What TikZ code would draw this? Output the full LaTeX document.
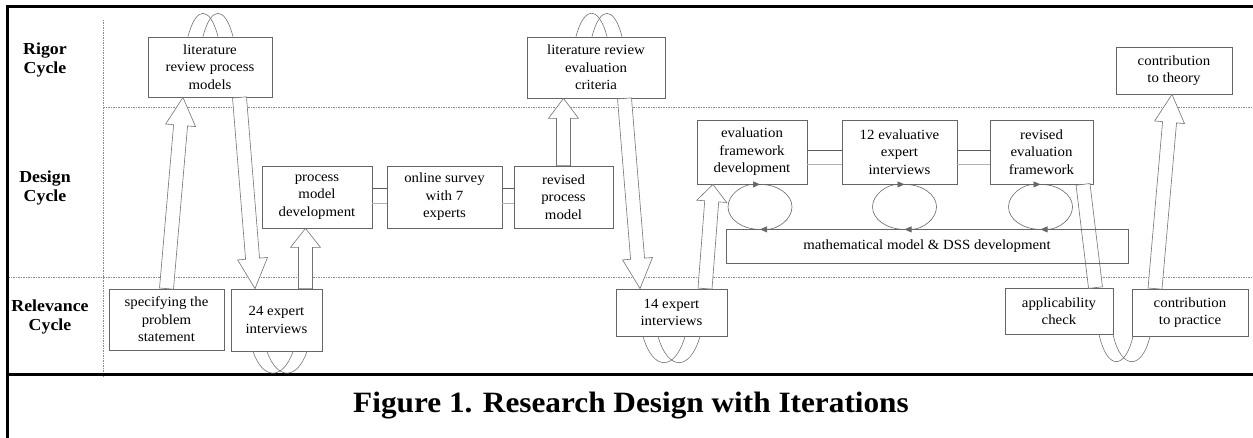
\documentclass[tikz,border=0pt]{standalone}
\usepackage{fontspec}
\setmainfont{Liberation Serif}[FakeStretch=1.06]
\usepackage{tikz}
\usetikzlibrary{calc, arrows.meta}

\begin{document}
\begin{tikzpicture}[x=1pt, y=-1pt,
    box/.style={draw=black!60, fill=white, line width=0.8pt, align=center, inner sep=0pt,
      font=\fontsize{14}{17.5}\selectfont},
    lab/.style={align=center, font=\fontsize{16.8}{19}\selectfont\bfseries},
    sep/.style={draw=black!45, line width=0.7pt, dash pattern=on 1.5pt off 1pt},
    frame/.style={draw=black, line width=3pt},
    upper/.style={draw=black!65, line width=0.8pt},
    lower/.style={draw=black!30, line width=0.8pt},
    loopline/.style={draw=black!55, line width=0.6pt},
    cyc/.style={draw=black!60, line width=0.6pt, -{Triangle[length=7pt, width=6pt]}},
    head len/.store in=\headlen, head len=28pt,
    bigarrow/.style={draw=black!55, fill=white, line width=0.6pt, to path={
      ($(\tikztostart)!7pt!90:(\tikztotarget)$)
      -- ($(\tikztotarget)!\headlen!(\tikztostart)!7pt!-90:(\tikztostart)$)
      -- ($(\tikztotarget)!\headlen!(\tikztostart)!15pt!-90:(\tikztostart)$)
      -- (\tikztotarget)
      -- ($(\tikztotarget)!\headlen!(\tikztostart)!15pt!90:(\tikztostart)$)
      -- ($(\tikztotarget)!\headlen!(\tikztostart)!7pt!90:(\tikztostart)$)
      -- ($(\tikztostart)!7pt!-90:(\tikztotarget)$) -- cycle}},
    ribbon/.style={draw=black!55, fill=white, line width=0.6pt, to path={
      ($(\tikztostart)!7pt!90:(\tikztotarget)$)
      -- ($(\tikztotarget)!7pt!-90:(\tikztostart)$)
      -- ($(\tikztotarget)!7pt!90:(\tikztostart)$)
      -- ($(\tikztostart)!7pt!-90:(\tikztotarget)$) -- cycle}}
  ]
  \useasboundingbox (0,0) rectangle (1253,438);

  \draw[sep] (103,20) -- (103,377);
  \draw[sep] (103,107) -- (1253,107);
  \draw[sep] (8,277) -- (1253,277);
  \draw[frame] (7,438) -- (7,7) -- (1253,7);
  \draw[frame] (7,374) -- (1253,374);

  \node[lab] (rigor) at (45,60) {Rigor\\Cycle};
  \node[lab] (design) at (45,188) {Design\\Cycle};
  \node[lab] (relevance) at (50,317) {Relevance\\Cycle};

  \node[box, minimum width=124, minimum height=60] (litproc) at (210,67) {literature\\review process\\models};
  \node[box, minimum width=115, minimum height=61] (spec) at (166.5,319.5) {specifying the\\problem\\statement};
  \node[box, minimum width=91, minimum height=62] (int24) at (276.5,320) {24 expert\\interviews};
  \node[box, minimum width=110, minimum height=62] (procdev) at (317,197) {process\\model\\development};
  \node[box, minimum width=115, minimum height=62] (survey) at (444.5,197) {online survey\\with 7\\experts};
  \node[box, minimum width=99, minimum height=62] (revproc) at (563.5,197) {revised\\process\\model};
  \node[box, minimum width=138, minimum height=61] (liteval) at (596,67.5) {literature review\\evaluation\\criteria};
  \node[box, minimum width=110, minimum height=64] (evaldev) at (752,152) {evaluation\\framework\\development};
  \node[box, minimum width=115, minimum height=64] (int12) at (899.5,152) {12 evaluative\\expert\\interviews};
  \node[box, minimum width=103, minimum height=64] (reveval) at (1041.5,152) {revised\\evaluation\\framework};
  \node[box, minimum width=111, minimum height=47] (int14) at (671.5,312.5) {14 expert\\interviews};
  \node[box, minimum width=108, minimum height=46] (applic) at (1059,311) {applicability\\check};
  \node[box, minimum width=116, minimum height=47] (practice) at (1190,312.5) {contribution\\to practice};
  \node[box, minimum width=116, minimum height=47] (theory) at (1174,70.5) {contribution\\to theory};

  \draw[upper] ([yshift=9pt]procdev.east) -- ([yshift=9pt]survey.west);
  \draw[lower] ([yshift=-6pt]procdev.east) -- ([yshift=-6pt]survey.west);
  \draw[upper] ([yshift=9pt]survey.east) -- ([yshift=9pt]revproc.west);
  \draw[lower] ([yshift=-6pt]survey.east) -- ([yshift=-6pt]revproc.west);
  \draw[upper] ([yshift=2pt]evaldev.east) -- ([yshift=2pt]int12.west);
  \draw[lower] ([yshift=-12pt]evaldev.east) -- ([yshift=-12pt]int12.west);
  \draw[upper] ([yshift=2pt]int12.east) -- ([yshift=2pt]reveval.west);
  \draw[lower] ([yshift=-12pt]int12.east) -- ([yshift=-12pt]reveval.west);

  \draw[bigarrow] (spec.north) to ([xshift=-27pt]litproc.south);
  \draw[bigarrow, head len=30pt] ([xshift=29.5pt]litproc.south) to ([xshift=-21.5pt]int24.north);
  \draw[bigarrow, head len=19pt] ([xshift=29pt]int24.north) to ([xshift=-11.5pt]procdev.south);
  \draw[bigarrow, head len=20pt] (revproc.north) to ([xshift=-32.5pt]liteval.south);
  \draw[bigarrow, head len=30pt] ([xshift=28.5pt]liteval.south) to ([xshift=-31.5pt]int14.north);
  \draw[bigarrow, head len=17pt] ([xshift=33.5pt]int14.north) to ([xshift=-39pt]evaldev.south);
  \draw[ribbon] ([xshift=41.5pt]reveval.south) to ([xshift=36.5pt]applic.north);
  \draw[bigarrow] ([xshift=-35pt]practice.north) to ([xshift=-2pt]theory.south);

  \node[box, fill=none, minimum width=402, minimum height=34] (dss) at (927,246) {mathematical model \& DSS development};

  \draw[loopline] ([xshift=-22pt]litproc.north) .. controls +(8,-31) and +(-8,-31) .. ([xshift=8pt]litproc.north);
  \draw[loopline] ([xshift=-7pt]litproc.north) .. controls +(8,-31) and +(-8,-31) .. ([xshift=23pt]litproc.north);
  \draw[loopline] ([xshift=-20pt]liteval.north) .. controls +(8,-31) and +(-8,-31) .. ([xshift=11pt]liteval.north);
  \draw[loopline] ([xshift=-4pt]liteval.north) .. controls +(8,-31) and +(-8,-31) .. ([xshift=26pt]liteval.north);
  \draw[loopline] ([xshift=-23.5pt]int24.south) .. controls +(10,29) and +(-10,29) .. ([xshift=16.5pt]int24.south);
  \draw[loopline] ([xshift=-9.5pt]int24.south) .. controls +(10,29) and +(-10,29) .. ([xshift=30.5pt]int24.south);
  \draw[loopline] ([xshift=-28.5pt]int14.south) .. controls +(10,35) and +(-10,35) .. ([xshift=13.5pt]int14.south);
  \draw[loopline] ([xshift=-13.5pt]int14.south) .. controls +(10,35) and +(-10,35) .. ([xshift=28.5pt]int14.south);
  \draw[loopline] ([xshift=40pt]applic.south) .. controls +(8,36) and +(-8,34) .. ([xshift=-57pt]practice.south);
  \draw[loopline] ([xshift=54pt]applic.south) .. controls +(8,36) and +(-8,34) .. ([xshift=-40pt]practice.south);

  \draw[cyc] ([xshift=8pt]evaldev.south) arc[start angle=90, end angle=-90, x radius=32pt, y radius=22.5pt];
  \draw[cyc] ([xshift=8pt, yshift=-45pt]evaldev.south) arc[start angle=270, end angle=90, x radius=32pt, y radius=22.5pt];
  \draw[cyc] ([xshift=5pt]int12.south) arc[start angle=90, end angle=-90, x radius=32pt, y radius=22.5pt];
  \draw[cyc] ([xshift=5pt, yshift=-45pt]int12.south) arc[start angle=270, end angle=90, x radius=32pt, y radius=22.5pt];
  \draw[cyc] ([xshift=-1pt]reveval.south) arc[start angle=90, end angle=-90, x radius=32pt, y radius=22.5pt];
  \draw[cyc] ([xshift=-1pt, yshift=-45pt]reveval.south) arc[start angle=270, end angle=90, x radius=32pt, y radius=22.5pt];

  \node[font=\fontsize{29.5}{32}\selectfont\bfseries] (caption) at (631,406) {Figure 1. Research Design with Iterations};
\end{tikzpicture}
\end{document}
